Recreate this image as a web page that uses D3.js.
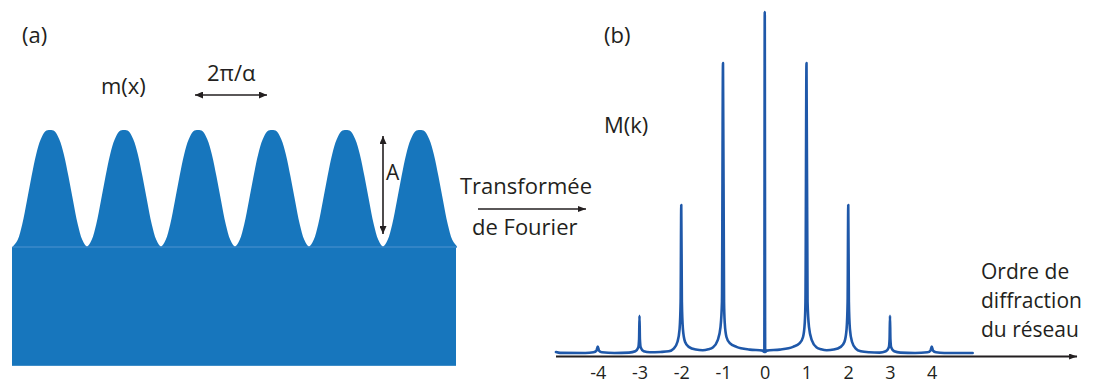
<!DOCTYPE html>
<html><head><meta charset="utf-8">
<script src="https://cdn.jsdelivr.net/npm/d3@7"></script>
<style>html,body{margin:0;padding:0;background:#fff}svg{display:block}text{font-family:"Open Sans",sans-serif;fill:#231f20}</style>
</head><body>
<script>
// ---- Panel (a): one period of the grating profile m(x), height as fraction of A, 16 samples from a minimum
const profile = [0, 0.055, 0.19, 0.39, 0.60, 0.79, 0.92, 0.99, 1.0, 0.99, 0.92, 0.79, 0.60, 0.39, 0.19, 0.055];
const periods = 6;
const substrateDepth = -1.02; // substrate thickness in units of A (below the profile)

// ---- Panel (b): spectrum M(k) vs diffraction order k
const specK = [-5.0,-4.9,-4.3,-4.1,-4.03,-4.0,-3.97,-3.9,-3.6,-3.25,-3.1,-3.03,-3.01,-3.0,-2.99,-2.97,-2.9,-2.75,-2.5,-2.3,-2.18,-2.09,-2.04,-2.015,-2.0,-1.985,-1.96,-1.91,-1.82,-1.65,-1.485,-1.35,-1.245,-1.126,-1.06,-1.025,-1.0,-0.975,-0.958,-0.917,-0.838,-0.678,-0.36,-0.05,-0.01,0,0.01,0.05,0.36,0.678,0.838,0.917,0.958,0.975,1.0,1.025,1.06,1.126,1.245,1.35,1.485,1.65,1.82,1.91,1.96,1.985,2.0,2.015,2.04,2.09,2.18,2.3,2.5,2.75,2.9,2.97,2.99,3.0,3.01,3.03,3.1,3.25,3.6,3.9,3.97,4.0,4.03,4.1,4.3,4.98];
const specM = [0.3,0.05,0,0.2,0.7,1.9,0.7,0.2,0,0.1,0.5,1.6,4,10.9,4,1.6,0.5,0.2,0.3,0.5,1.3,3.3,7,15,43.4,15,7,3.3,1.8,1.0,0.8,1.1,1.6,3.8,7.6,15,85,15,8.8,4.7,2.9,1.8,1.0,0.7,0.3,100,0.3,0.7,1.0,1.8,2.9,4.7,8.8,15,85,15,7.6,3.8,1.6,1.1,0.8,1.0,1.8,3.3,7,15,43.4,15,7,3.3,1.3,0.5,0.2,0.1,0.5,1.6,4,10.9,4,1.6,0.5,0.1,0,0.2,0.7,1.9,0.7,0.2,0,0];
const orders = [-4,-3,-2,-1,0,1,2,3,4];
const orderLabels = ["-4","-3","-2","-1","0","1","2","3","4"];

const W = 1095, H = 385;
const svg = d3.select("body").append("svg").attr("width", W).attr("height", H);
const ink = "#231f20";

const defs = svg.append("defs");
function marker(id, len, half) {
  defs.append("marker").attr("id", id).attr("markerUnits", "userSpaceOnUse")
    .attr("viewBox", `0 ${-half} ${len} ${2*half}`).attr("refX", len).attr("refY", 0)
    .attr("markerWidth", len).attr("markerHeight", 2*half).attr("orient", "auto-start-reverse")
    .append("path").attr("d", `M0,${-half}L${len},0L0,${half}Z`).attr("fill", ink);
}
marker("arr", 8, 3.5);
marker("arrS", 8, 3);

// ---------- Panel (a)
const xA = d3.scaleLinear().domain([0, periods]).range([13, 457]);
const yA = d3.scaleLinear().domain([0, 1]).range([246.5, 130]);
const wave = [];
for (let p = 0; p < periods; p++) profile.forEach((h, i) => wave.push({u: p + i / profile.length, h}));
wave.push({u: periods, h: profile[0]});

svg.append("path").datum(wave)
  .attr("d", d3.area().x(d => xA(d.u)).y0(yA(0) + 1).y1(d => yA(d.h)).curve(d3.curveCatmullRom.alpha(0.5)))
  .attr("fill", "#1776bd");
svg.append("rect").attr("x", xA(0) - 1).attr("y", yA(0) + 0.5)
  .attr("width", xA(periods) - xA(0)).attr("height", yA(substrateDepth) - yA(0))
  .attr("fill", "#1776bd");
svg.append("line").attr("x1", xA(0) - 1).attr("x2", xA(periods)).attr("y1", yA(0) + 0.5).attr("y2", yA(0) + 0.5)
  .attr("stroke", "#4f93d0").attr("stroke-width", 1);

// period arrow
svg.append("line").attr("x1", 195).attr("x2", 267).attr("y1", 95).attr("y2", 95)
  .attr("stroke", ink).attr("stroke-width", 1.6)
  .attr("marker-start", "url(#arr)").attr("marker-end", "url(#arr)");
// amplitude arrow
svg.append("line").attr("x1", 383).attr("x2", 383).attr("y1", 136).attr("y2", 234)
  .attr("stroke", ink).attr("stroke-width", 1.6)
  .attr("marker-start", "url(#arr)").attr("marker-end", "url(#arr)");

svg.append("text").attr("x", 22).attr("y", 43).attr("font-size", 22).text("(a)");
svg.append("text").attr("x", 101).attr("y", 94).attr("font-size", 22).text("m(x)");
svg.append("text").attr("x", 207).attr("y", 81).attr("font-size", 22).text("2π/α");
svg.append("text").attr("x", 386).attr("y", 180).attr("font-size", 21).text("A");

// transform arrow
svg.append("text").attr("x", 460).attr("y", 194).attr("font-size", 22).text("Transformée");
svg.append("line").attr("x1", 478).attr("x2", 586).attr("y1", 209).attr("y2", 209)
  .attr("stroke", ink).attr("stroke-width", 1.3).attr("marker-end", "url(#arrS)");
svg.append("text").attr("x", 472).attr("y", 235).attr("font-size", 22).text("de Fourier");

// ---------- Panel (b)
const xB = d3.scaleLinear().domain([-5, 5]).range([556, 973.5]);
const yB = d3.scaleLinear().domain([0, 100]).range([353, 12]);
const axisY = 356.5;

svg.append("line").attr("x1", xB(-5)).attr("x2", xB(7.48)).attr("y1", axisY).attr("y2", axisY)
  .attr("stroke", ink).attr("stroke-width", 1.8).attr("marker-end", "url(#arrS)");

const ax = svg.append("g").attr("transform", `translate(0,${axisY})`)
  .call(d3.axisBottom(xB).tickValues(orders).tickSize(0).tickFormat((d, i) => orderLabels[i]));
ax.select(".domain").remove();
ax.selectAll("text").attr("y", 22.5).attr("dy", 0).attr("font-size", 18)
  .attr("font-family", '"Open Sans",sans-serif').attr("fill", ink);

const spec = specK.map((k, i) => ({k, m: specM[i]}));
svg.append("path").datum(spec)
  .attr("d", d3.line().x(d => xB(d.k)).y(d => yB(d.m)).curve(d3.curveMonotoneX))
  .attr("fill", "none").attr("stroke", "#1f58a9").attr("stroke-width", 2.6)
  .attr("stroke-linejoin", "round").attr("stroke-linecap", "round");

svg.append("text").attr("x", 604).attr("y", 43).attr("font-size", 22).text("(b)");
svg.append("text").attr("x", 604).attr("y", 133).attr("font-size", 22).text("M(k)");

const lab = svg.append("text").attr("font-size", 21);
["Ordre de", "diffraction", "du réseau"].forEach((t, i) =>
  lab.append("tspan").attr("x", 981).attr("y", 279 + i * 29).text(t));
</script>
</body></html>
